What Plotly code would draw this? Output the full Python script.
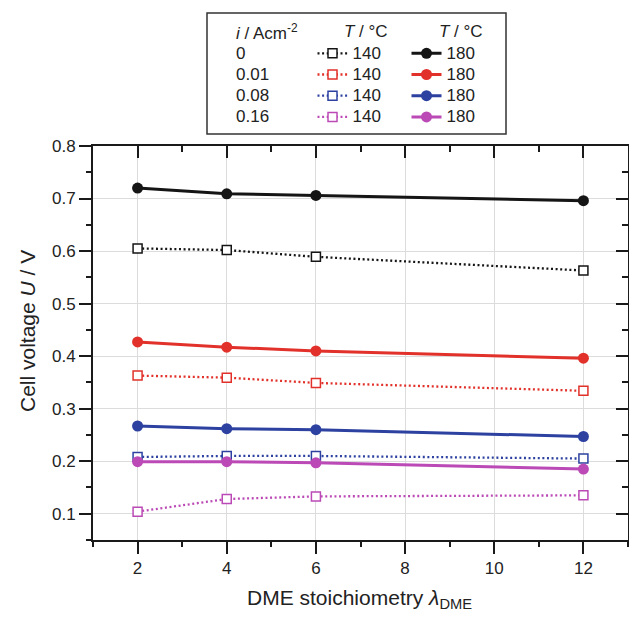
import plotly.graph_objects as go

# ---- data ----
stoich = [2, 4, 6, 12]
currents = ["0", "0.01", "0.08", "0.16"]
u_140 = [
    [0.605, 0.602, 0.589, 0.563],
    [0.363, 0.359, 0.349, 0.334],
    [0.208, 0.210, 0.210, 0.205],
    [0.104, 0.128, 0.133, 0.135],
]
u_180 = [
    [0.720, 0.709, 0.706, 0.696],
    [0.427, 0.417, 0.410, 0.396],
    [0.267, 0.262, 0.260, 0.247],
    [0.199, 0.199, 0.197, 0.185],
]
temps = ["140", "180"]
colors = ["#151515", "#e2312a", "#2c41a0", "#bb4ab6"]

FONT = "Liberation Sans, Arial, Helvetica, sans-serif"
W, H = 629, 617
ML, MR, MT, MB = 93, 1, 146, 77
PW = W - ML - MR
PH = H - MT - MB


def px(xp):
    return (xp - ML) / PW


def py(yp):
    return (H - MB - yp) / PH


fig = go.Figure()

for k, cur in enumerate(currents):
    fig.add_trace(go.Scatter(
        x=stoich, y=u_140[k], mode="lines+markers",
        name="<span style='font-size:17px'>%s</span>" % temps[0],
        legend="legend",
        line=dict(color=colors[k], width=2.3, dash="2px,2.6px"),
        marker=dict(symbol="square", size=9, color="white",
                    line=dict(color=colors[k], width=1.5)),
    ))
for k, cur in enumerate(currents):
    fig.add_trace(go.Scatter(
        x=stoich, y=u_180[k], mode="lines+markers",
        name="<span style='font-size:17px'>%s</span>" % temps[1],
        legend="legend2",
        line=dict(color=colors[k], width=3),
        marker=dict(symbol="circle", size=11, color=colors[k]),
    ))

# empty trace so the top/right frame axes (inward ticks) get drawn
fig.add_trace(go.Scatter(x=[], y=[], xaxis="x2", yaxis="y2",
                         showlegend=False, hoverinfo="skip"))

axis_common = dict(
    showline=True, linecolor="#1a1a1a", linewidth=2,
    tickcolor="#1a1a1a", tickwidth=2, ticklen=12,
    zeroline=False,
    tickfont=dict(family=FONT, size=17, color="#222222"),
)

fig.update_layout(
    width=W, height=H,
    margin=dict(l=ML, r=MR, t=MT, b=MB, autoexpand=False),
    paper_bgcolor="white", plot_bgcolor="white",
    font=dict(family=FONT, size=17, color="#222222"),
    xaxis=dict(
        range=[1, 13], tick0=0, dtick=2, ticks="outside",
        showgrid=True, gridcolor="#dcdcdc", gridwidth=1,
        minor=dict(dtick=1, tick0=0, ticks="outside", ticklen=5,
                   tickcolor="#1a1a1a", tickwidth=2, showgrid=False),
        **axis_common,
    ),
    yaxis=dict(
        range=[0.05, 0.8], tick0=0, dtick=0.1, ticks="outside",
        tickformat=".1f",
        showgrid=True, gridcolor="#dcdcdc", gridwidth=1,
        minor=dict(dtick=0.05, tick0=0, ticks="outside", ticklen=5,
                   tickcolor="#1a1a1a", tickwidth=2, showgrid=False),
        **axis_common,
    ),
    xaxis2=dict(
        overlaying="x", side="top", range=[1, 13], tick0=0, dtick=2,
        ticks="inside", showticklabels=False, showgrid=False,
        minor=dict(dtick=1, tick0=0, ticks="inside", ticklen=6,
                   tickcolor="#1a1a1a", tickwidth=2),
        **axis_common,
    ),
    yaxis2=dict(
        overlaying="y", side="right", range=[0.05, 0.8], tick0=0, dtick=0.1,
        ticks="inside", showticklabels=False, showgrid=False,
        minor=dict(dtick=0.05, tick0=0, ticks="inside", ticklen=6,
                   tickcolor="#1a1a1a", tickwidth=2),
        **axis_common,
    ),
    legend=dict(
        x=px(312.5), y=py(37.7), xanchor="left", yanchor="top",
        bgcolor="rgba(0,0,0,0)", borderwidth=0,
        font=dict(family=FONT, size=14, color="#222222"),
        tracegroupgap=0,
    ),
    legend2=dict(
        x=px(406.5), y=py(37.7), xanchor="left", yanchor="top",
        bgcolor="rgba(0,0,0,0)", borderwidth=0,
        font=dict(family=FONT, size=14, color="#222222"),
        tracegroupgap=0,
    ),
    showlegend=True,
)

annotations = []
# legend headers
annotations.append(dict(text="<i>i</i> / Acm<sup>-2</sup>", x=px(234), y=py(31.7),
                        xanchor="left", yanchor="middle"))
annotations.append(dict(text="<i>T</i> / °C", x=px(390), y=py(31.7),
                        xanchor="right", yanchor="middle"))
annotations.append(dict(text="<i>T</i> / °C", x=px(485), y=py(31.7),
                        xanchor="right", yanchor="middle"))
row_y = [53.3, 74.5, 95.7, 116.9]
for cur, ry in zip(currents, row_y):
    annotations.append(dict(text=cur, x=px(234), y=py(ry),
                            xanchor="left", yanchor="middle"))
# axis titles
annotations.append(dict(text="Cell voltage <i>U</i> / V", x=px(27), y=py(331),
                        xanchor="center", yanchor="middle", textangle=-90,
                        font=dict(family=FONT, size=21, color="#222222")))
annotations.append(dict(text="DME stoichiometry <i>λ</i><sub>DME</sub>", x=px(359), y=py(584),
                        xanchor="center", yanchor="top",
                        font=dict(family=FONT, size=21, color="#222222")))
for a in annotations:
    a.update(xref="paper", yref="paper", showarrow=False)
    a.setdefault("font", dict(family=FONT, size=17, color="#222222"))
fig.update_layout(annotations=annotations)

fig.add_shape(type="rect", xref="paper", yref="paper",
              x0=px(207), x1=px(506), y0=py(134), y1=py(13),
              line=dict(color="#333333", width=1.5), fillcolor="rgba(0,0,0,0)")

fig.write_html(
    "out.html",
    config={"displayModeBar": False},
    post_script="document.body.style.margin='0';document.body.style.overflow='hidden';",
)
